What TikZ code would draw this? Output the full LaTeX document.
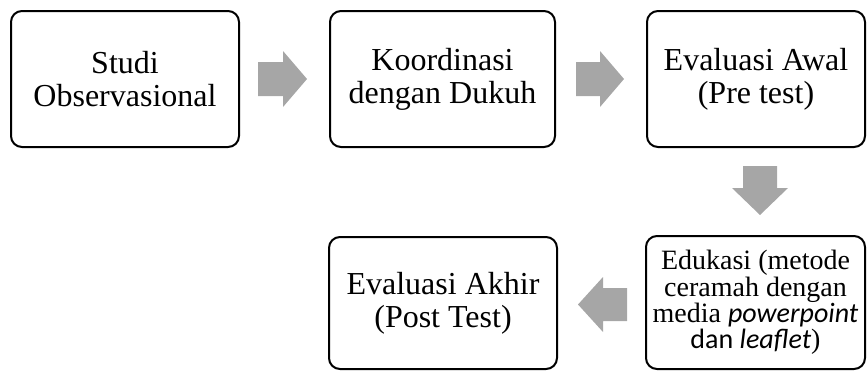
\documentclass[tikz,border=0pt]{standalone}
\usepackage{fontspec}
\setmainfont{Liberation Serif}
\newfontfamily\calib{Carlito}
\definecolor{arrowgray}{HTML}{A6A6A6}
\begin{document}
\begin{tikzpicture}[x=1pt,y=-1pt,
  stepbox/.style={draw=black, line width=2pt, rounded corners=11pt, align=center,
    inner sep=0pt, font=\fontsize{32}{33}\selectfont},
  smallbox/.style={stepbox, font=\fontsize{28}{26.3}\selectfont},
  blockarrow/.style={fill=arrowgray}]
\useasboundingbox (0,0) rectangle (867,372);
\node[stepbox, minimum width=228pt, minimum height=136pt] (b1) at (125,79) {Studi\\Observasional};
\node[stepbox, minimum width=225pt, minimum height=136pt] (b2) at (442.5,79) {Koordinasi\\dengan Dukuh};
\node[stepbox, minimum width=218pt, minimum height=136pt] (b3) at (756,79) {Evaluasi Awal\\(Pre test)};
\node[smallbox, minimum width=219pt, minimum height=133pt] (b4) at (755.5,302.5) {Edukasi (metode\\ceramah dengan\\media {\calib\itshape powerpoint}\\{\calib dan \itshape leaflet})};
\node[stepbox, minimum width=228pt, minimum height=132pt] (b5) at (443,303) {Evaluasi Akhir\\(Post Test)};
% block arrows
\fill[blockarrow] (258,62) -- (283,62) -- (283,51) -- (307,79) -- (283,107) -- (283,96) -- (258,96) -- cycle;
\fill[blockarrow] (576,62) -- (600,62) -- (600,51) -- (624,79) -- (600,107) -- (600,96) -- (576,96) -- cycle;
\fill[blockarrow] (743,166) -- (777,166) -- (777,188) -- (788,188) -- (760,215) -- (732,188) -- (743,188) -- cycle;
\fill[blockarrow] (627,288) -- (603,288) -- (603,277) -- (578,304.5) -- (603,332) -- (603,321) -- (627,321) -- cycle;
\end{tikzpicture}
\end{document}
